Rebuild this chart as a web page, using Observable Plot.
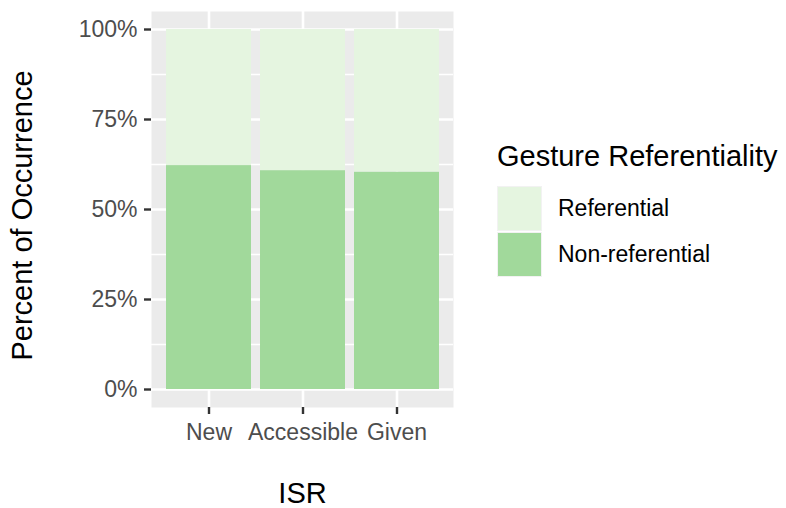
<!DOCTYPE html>
<html>
<head>
<meta charset="utf-8">
<script src="https://cdn.jsdelivr.net/npm/d3@7"></script>
<script src="https://cdn.jsdelivr.net/npm/@observablehq/plot@0.6"></script>
<style>
  html, body { margin: 0; padding: 0; background: white; }
  #wrap { position: relative; width: 786px; height: 508px; font-family: "Liberation Sans", Arial, sans-serif; }
  #legend { position: absolute; left: 0; top: 0; }
  .ltitle { position: absolute; left: 497px; top: 142px; font-size: 29px; line-height: 29px; color: #000; white-space: nowrap; }
  .lkey { position: absolute; left: 497px; width: 43px; height: 43px; border: 1px solid #F2F2F2; }
  .llab { position: absolute; left: 558px; font-size: 23px; line-height: 23px; color: #000; white-space: nowrap; }
</style>
</head>
<body>
<div id="wrap"></div>
<script>
// Data
const categories = ["New", "Accessible", "Given"];
const seriesNames = ["Referential", "Non-referential"];
const seriesColors = ["#E5F5E0", "#A1D99B"];
const nonReferential = [62.2, 60.8, 60.4];
const referential = [37.8, 39.2, 39.6];
const yMajorTicks = [0, 25, 50, 75, 100];
const yMinorTicks = [12.5, 37.5, 62.5, 87.5];
const xTitle = "ISR";
const yTitle = "Percent of Occurrence";
const legendTitle = "Gesture Referentiality";

const rows = [];
categories.forEach((c, i) => {
  rows.push({isr: c, type: "Non-referential", pct: nonReferential[i]});
  rows.push({isr: c, type: "Referential", pct: referential[i]});
});

const font = "Liberation Sans, Arial, sans-serif";

const chart = Plot.plot({
  width: 786,
  height: 508,
  marginLeft: 151,
  marginRight: 333,
  marginTop: 11,
  marginBottom: 101,
  style: {fontFamily: font, background: "white", overflow: "visible"},
  x: {domain: categories, paddingInner: 0.1, paddingOuter: 0.15, axis: null},
  y: {domain: [-5, 105], axis: null},
  color: {domain: seriesNames, range: seriesColors},
  marks: [
    Plot.frame({fill: "#EBEBEB", stroke: null}),
    Plot.ruleY(yMinorTicks, {y: d => d, stroke: "white", strokeWidth: 1.3}),
    Plot.ruleY(yMajorTicks, {y: d => d, stroke: "white", strokeWidth: 2.6}),
    Plot.ruleX(categories, {x: d => d, stroke: "white", strokeWidth: 2.6}),
    Plot.barY(rows, Plot.stackY({order: ["Non-referential", "Referential"]}, {x: "isr", y: "pct", fill: "type"})),
    Plot.axisY({ticks: yMajorTicks, tickFormat: d => d + "%", tickSize: 7, tickPadding: 7, fontSize: 23,
      stroke: "#333333", fill: "#4D4D4D", strokeWidth: 2.4, label: null}),
    Plot.axisX({tickSize: 7, tickPadding: 9, fontSize: 23, stroke: "#333333", fill: "#4D4D4D", strokeWidth: 2.4, label: null}),
    Plot.text([yTitle], {text: d => d, frameAnchor: "left", textAnchor: "middle", rotate: -90, dx: -128.5, dy: 6, fontSize: 29, fill: "black", lineAnchor: "middle"}),
    Plot.text([xTitle], {text: d => d, frameAnchor: "bottom", dy: 86.5, fontSize: 29, fill: "black", lineAnchor: "middle"})
  ]
});

const wrap = document.getElementById("wrap");
wrap.appendChild(chart);

// Legend (HTML overlay, to the right of the panel)
const leg = document.createElement("div");
leg.id = "legend";
const t = document.createElement("div");
t.className = "ltitle";
t.textContent = legendTitle;
leg.appendChild(t);
const keyTops = [186, 232];
seriesNames.forEach((name, i) => {
  const k = document.createElement("div");
  k.className = "lkey";
  k.style.top = keyTops[i] + "px";
  k.style.background = seriesColors[i];
  leg.appendChild(k);
  const l = document.createElement("div");
  l.className = "llab";
  l.style.top = (keyTops[i] + 22.5 - 11.5) + "px";
  l.textContent = name;
  leg.appendChild(l);
});
wrap.appendChild(leg);
</script>
</body>
</html>
